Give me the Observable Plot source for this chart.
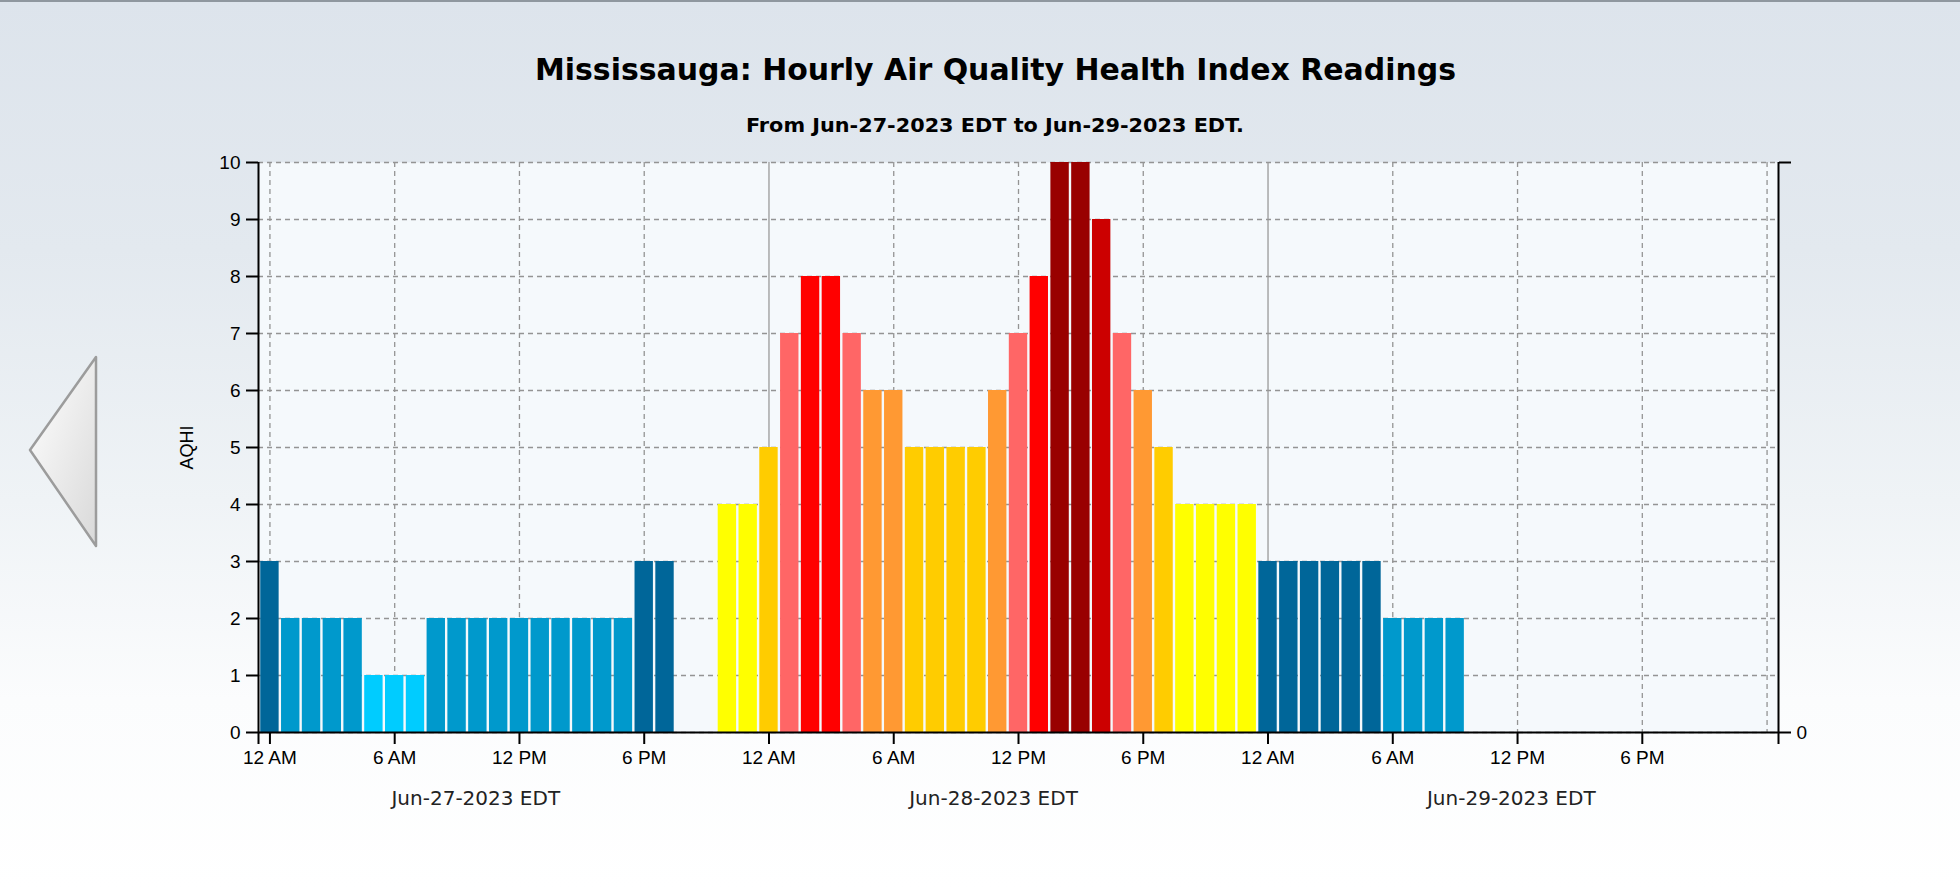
<!DOCTYPE html>
<html><head><meta charset="utf-8">
<script src="https://cdn.jsdelivr.net/npm/d3@7"></script>
<script src="https://cdn.jsdelivr.net/npm/@observablehq/plot@0.6"></script>
<style>
html,body{margin:0;padding:0;}
body{width:1960px;height:888px;overflow:hidden;position:relative;
  background:linear-gradient(#dde4ec 0px,#e3e9ef 250px,#eff3f6 500px,#fbfcfd 700px,#ffffff 888px);
  font-family:"DejaVu Sans",sans-serif;}
#topline{position:absolute;left:0;top:0;width:1960px;height:2px;background:#8f979f;}
.ttl{position:absolute;white-space:nowrap;font-weight:bold;color:#000;transform-origin:0 0;line-height:1;}
#title{font-size:31px;}
#subtitle{font-size:20px;}
#chart{position:absolute;left:0;top:140px;}
#nav{position:absolute;left:0;top:0;}
</style></head>
<body>
<div id="topline"></div>
<svg id="nav" width="120" height="888">
  <defs><linearGradient id="tg" x1="0" x2="1" y1="0" y2="1">
    <stop offset="0" stop-color="#ffffff"/><stop offset="1" stop-color="#d9d9d9"/></linearGradient></defs>
  <polygon points="30,450 96,357 96,546" fill="url(#tg)" stroke="#9c9c9c" stroke-width="2.5" stroke-linejoin="round"/>
</svg>
<div id="title" class="ttl">Mississauga: Hourly Air Quality Health Index Readings</div>
<div id="subtitle" class="ttl">From Jun-27-2023 EDT to Jun-29-2023 EDT.</div>
<div id="chart"></div>
<script>
// ---- data ----
const dayLabels = ["Jun-27-2023 EDT", "Jun-28-2023 EDT", "Jun-29-2023 EDT"];
const dateLabelHours = [9.9, 34.8, 59.7];
const jun27 = [3,2,2,2,2,1,1,1,2,2,2,2,2,2,2,2,2,2,3,3,null,null,4,4];
const jun28 = [5,7,8,8,7,6,6,5,5,5,5,6,7,8,10,10,9,7,6,5,4,4,4,4];
const jun29 = [3,3,3,3,3,3,2,2,2,2];
const aqhiColors = ["#00CCFF","#0099CC","#006699","#FFFF00","#FFCC00","#FF9933","#FF6666","#FF0000","#CC0000","#990000"];
const hourTickLabels = ["12 AM", "6 AM", "12 PM", "6 PM"];
const yTicks = [0,1,2,3,4,5,6,7,8,9,10];
const xDomain = [-0.55, 72.55];

const rows = [];
[jun27, jun28, jun29].forEach((arr, d) => arr.forEach((v, i) => { if (v != null) rows.push({h: d * 24 + i, v}); }));
const tickHours = d3.range(0, 72, 6);
const dashedHours = d3.range(0, 73, 6).filter(h => h % 24 !== 0 || h === 0 || h === 72);
const dayLineHours = [24, 48];

const plot = Plot.plot({
  width: 1960, height: 748,
  marginLeft: 258, marginRight: 182, marginTop: 22, marginBottom: 156,
  x: {domain: xDomain},
  y: {domain: [0, 10]},
  style: {background: "transparent", fontFamily: "'Liberation Sans', Arial, sans-serif", color: "#000"},
  marks: [
    Plot.frame({fill: "#f5f9fc", stroke: null}),
    Plot.ruleY(yTicks, {stroke: "#949494", strokeDasharray: "5,4", strokeWidth: 1.3}),
    Plot.ruleX(dashedHours, {stroke: "#949494", strokeDasharray: "5,4", strokeWidth: 1.3}),
    Plot.ruleX(dayLineHours, {stroke: "#9a9a9a", strokeWidth: 1.3}),
    Plot.rectY(rows, {x1: d => d.h - 0.5, x2: d => d.h + 0.5, y: "v", fill: d => aqhiColors[d.v - 1], insetLeft: 1.2, insetRight: 1.2}),
    Plot.ruleX([xDomain[0], xDomain[1]], {stroke: "#000", strokeWidth: 2, insetBottom: -12}),
    Plot.ruleY([0], {stroke: "#000", strokeWidth: 2}),
    Plot.axisY({ticks: yTicks, tickSize: 12, tickPadding: 6, fontSize: 19, strokeWidth: 2, label: null}),
    Plot.axisY({anchor: "right", ticks: [0, 10], tickFormat: d => d === 0 ? "0" : "", tickSize: 12, tickPadding: 6, fontSize: 19, strokeWidth: 2, label: null}),
    Plot.axisX({ticks: tickHours, tickFormat: h => hourTickLabels[(h / 6) % 4], tickSize: 12, tickPadding: 6, fontSize: 19, strokeWidth: 2, label: null}),
    Plot.text(["AQHI"], {text: d => d, frameAnchor: "left", textAnchor: "middle", dx: -71, rotate: -90, fontSize: 18}),
    Plot.text(dayLabels, {text: d => d, x: (d, i) => dateLabelHours[i], frameAnchor: "bottom", dy: 72, fontSize: 20, fontFamily: "DejaVu Sans", fill: "#222"})
  ]
});
document.getElementById("chart").appendChild(plot);

function place(id, cx, cy, targetW) {
  const el = document.getElementById(id);
  const r = el.getBoundingClientRect();
  const s = targetW / r.width;
  el.style.left = (cx - targetW / 2) + "px";
  el.style.top = (cy - r.height / 2) + "px";
  el.style.transform = `scaleX(${s})`;
}
place("title", 995, 69, 921);
place("subtitle", 995, 125, 498);
</script>
</body></html>
